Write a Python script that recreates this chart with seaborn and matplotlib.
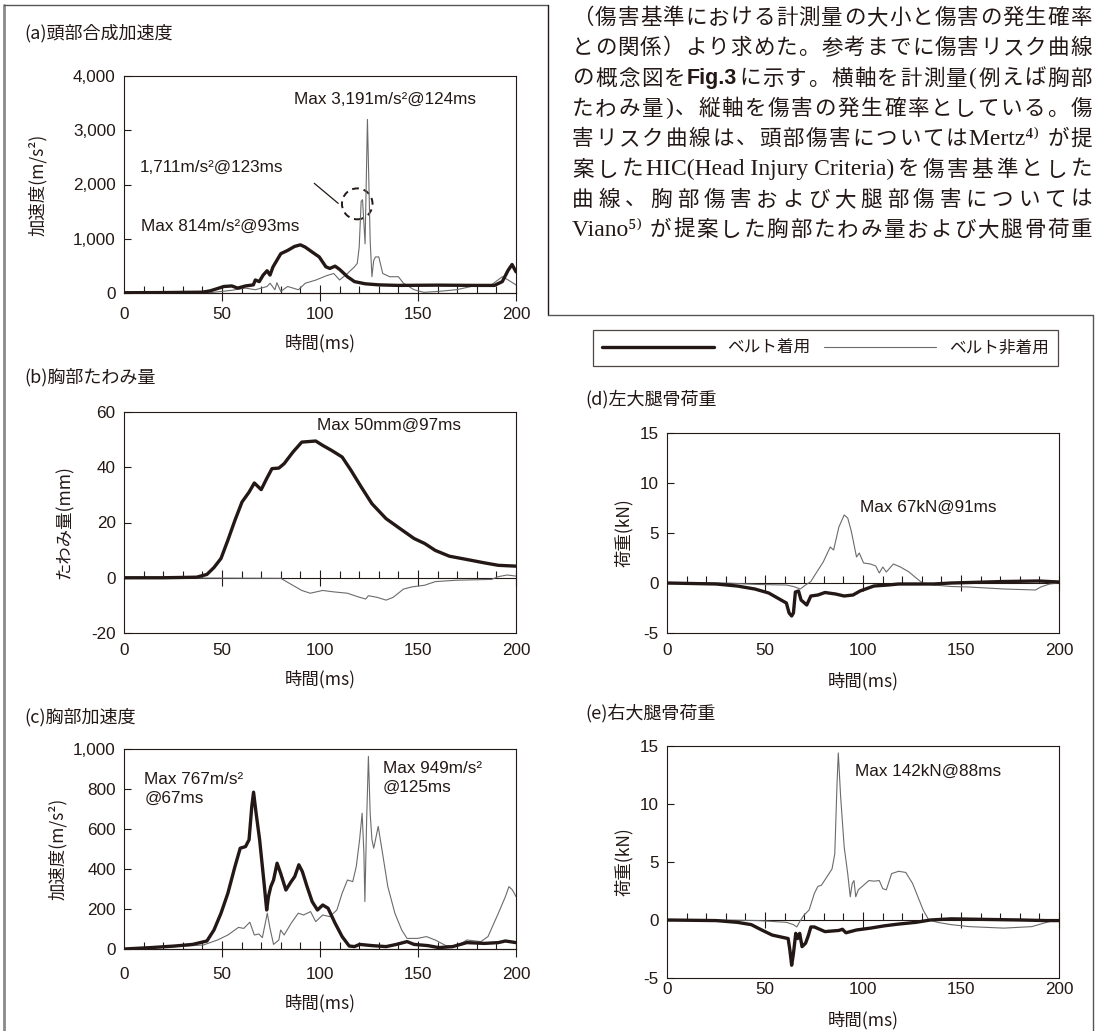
import matplotlib
matplotlib.use('Agg')
import matplotlib.pyplot as plt
from matplotlib import font_manager
from matplotlib.lines import Line2D
from matplotlib.patches import Ellipse
import seaborn as sns

W, H = 1097, 1031

# ---------------- data ----------------
time_ticks = [0, 50, 100, 150, 200]
belt_label = 'ベルト着用'
nobelt_label = 'ベルト非着用'

# (a) head resultant acceleration (m/s^2)
a_belt_t = [0, 20, 40, 44, 51, 55, 58, 62, 66, 67, 69, 71, 73, 74.5, 76, 80, 83.5, 87, 90, 92.5,
            96, 99.6, 103, 105, 107.7, 110, 114, 117.6, 123, 130, 140, 160, 180, 189, 193, 196, 198, 200]
a_belt_v = [5, 8, 15, 40, 120, 130, 90, 130, 150, 240, 210, 330, 410, 330, 480, 725, 785, 858, 888, 845,
            755, 665, 483, 453, 495, 435, 300, 210, 170, 150, 140, 145, 140, 140, 210, 420, 525, 390]
a_nobelt_t = [0, 30, 44, 55, 62, 67, 73, 74.5, 77, 78, 80, 83.5, 89, 92.5, 98, 103, 107, 110, 114, 117.6,
              119, 120, 121, 121.7, 123, 124.2, 125.6, 126.5, 127.4, 128.3, 130, 132, 135.5, 140, 142.6,
              148, 153, 160.6, 169.5, 178.5, 187.5, 193, 196, 200]
a_nobelt_v = [0, 0, 5, 50, 90, 60, 120, 180, 60, 190, 30, 120, 60, 180, 240, 315, 360, 240, 360, 483,
              545, 845, 1690, 1720, 906, 3200, 965, 300, 600, 665, 665, 360, 300, 300, 180,
              60, 12, 30, 60, 130, 150, 300, 240, 150]
a_yticks = [0, 1000, 2000, 3000, 4000]

# (b) chest deflection (mm)
b_belt_t = [0, 20, 37, 42.3, 45.9, 49.5, 53, 56.6, 60.2, 63.8, 66.5, 70, 72.8, 75.5, 79, 81.7, 86.2,
            90.7, 97.8, 101.4, 105.9, 111.3, 115.8, 121, 126.5, 133.7, 140.8, 148, 153.4, 158.8, 166,
            175, 183.8, 191, 200]
b_belt_v = [0, 0, 0.2, 1.2, 3.7, 7, 13.6, 20.8, 27.4, 31, 34.3, 31.9, 35.9, 39.5, 39.7, 41.3, 45.5,
            49.1, 49.5, 47.9, 46.1, 43.7, 38.9, 32.9, 26.8, 21.4, 17.8, 14.2, 12.4, 9.9, 7.8,
            6.6, 5.4, 4.5, 4.2]
b_nobelt_t = [0, 40, 80, 85.3, 90.7, 95, 101.4, 106.8, 114, 119.4, 123.3, 124.7, 129.2, 133.7, 137.3,
              142.6, 147, 153.4, 158.8, 169.5, 187.5, 191, 195.5, 200]
b_nobelt_v = [0, -0.1, -0.2, -2.4, -4.6, -5.6, -4.6, -5.1, -5.6, -6.9, -7.7, -6.5, -7.1, -8.1, -7.1,
              -4.1, -3.3, -2.7, -1.4, -0.9, -0.6, 0.4, 1.0, 0.6]
b_yticks = [-20, 0, 20, 40, 60]

# (c) chest acceleration (m/s^2)
c_belt_t = [0, 13.6, 26, 35, 42.3, 45.9, 49.5, 53, 56.6, 59.3, 62, 63.8, 65.2, 66.1, 67.4, 69.2, 71.3,
            72.8, 73.7, 74.9, 76.3, 78.1, 79.9, 82.6, 85.3, 87.1, 89.2, 91, 93.4, 96, 98.7, 101.4, 104.1,
            107.7, 111.3, 114.9, 117.6, 120.2, 126.5, 133.7, 139, 144.4, 148, 155, 160.6, 167.7, 174.9,
            183.8, 191, 194.6, 200]
c_belt_v = [0, 7, 15, 23, 40, 95, 179, 279, 412, 504, 512, 546, 713, 784, 679, 546, 345,
            195, 262, 312, 345, 429, 379, 295, 337, 362, 421, 387, 312, 237, 195, 220, 204,
            129, 62, 15, 12, 23, 17, 12, 23, 37, 23, 17, 7, 12, 32,
            28, 32, 40, 32]
c_nobelt_t = [0, 26, 40.5, 47.7, 53, 58.4, 61.1, 64.2, 66.5, 68.8, 70.6, 73.1, 74.5, 76.3, 79, 79.9, 81.7,
              85.3, 88.9, 91.6, 95.2, 97.8, 101.4, 105, 108.6, 111.3, 114, 116.7, 118.5, 120.2, 121.5,
              122.4, 122.9, 123.8, 124.7, 125.6, 126.5, 127.4, 128.3, 129.7, 131.9, 134.6, 138.2, 141.7,
              144.4, 149.8, 154.3, 158.8, 164.2, 169.5, 174.9, 182.1, 185.7, 191, 194.6, 196.4, 198.2, 200]
c_nobelt_v = [0, 12, 20, 45, 70, 108, 103, 134, 70, 75, 57, 179, 103, 23, 45, 95, 70,
              129, 179, 170, 187, 137, 170, 162, 195, 279, 345, 337, 412, 546, 679,
              479, 237, 646, 963, 679, 546, 504, 546, 613, 479, 312, 179, 95,
              53, 53, 62, 45, 17, 12, 45, 37, 62, 179, 262, 312, 295, 262]
c_yticks = [0, 200, 400, 600, 800, 1000]

# (d) left femur load (kN)
d_belt_t = [0, 25, 35.8, 44.8, 51.9, 57.3, 60.9, 62.3, 63.6, 64.5, 65.5, 67.1, 68.4, 71.3, 73.4, 77,
            80.6, 86, 90.4, 94.9, 98.5, 105.6, 112.8, 118.2, 136, 145, 154, 171.9, 189.8, 200]
d_belt_v = [0, -0.1, -0.3, -0.6, -1.0, -1.6, -2.0, -3.0, -3.3, -3.0, -0.9, -0.8, -1.7, -2.2, -1.3, -1.2,
            -0.95, -1.1, -1.3, -1.2, -0.8, -0.3, -0.2, -0.1, -0.1, 0, 0.05, 0.15, 0.2, 0.1]
d_nobelt_t = [0, 30, 46.6, 60.9, 64.5, 68, 70.7, 73.4, 76.1, 79.7, 83.3, 85, 87.7, 90.4, 92.2, 94,
              96.7, 98.1, 100.3, 103.8, 106.5, 108.3, 110.1, 111.9, 115.5, 119.1, 123.5, 127.1, 130.3,
              136, 145, 154, 171.9, 188, 190.7, 195.2, 200]
d_nobelt_v = [0, 0, -0.15, -0.2, -0.35, -0.6, -0.2, 0.15, 1.0, 2.1, 3.6, 3.3, 5.6, 6.8, 6.5, 5.2,
              2.6, 3.0, 2.0, 1.9, 1.7, 1.0, 1.6, 1.1, 1.9, 1.6, 1.1, 0.5, 0,
              -0.2, -0.35, -0.4, -0.6, -0.7, -0.4, -0.1, 0]

# (e) right femur load (kN)
e_belt_t = [0, 25, 35.8, 43, 48.3, 53.7, 59.1, 61.8, 62.7, 63.6, 64.5, 65.7, 66.6, 67.7, 68.9, 70.7,
            72, 73.4, 75.2, 80.6, 87.7, 89.5, 91.3, 96.7, 103.8, 111, 118.2, 127.1, 134.3, 145, 163,
            180.8, 193.4, 200]
e_belt_v = [0, -0.05, -0.2, -0.4, -0.86, -1.3, -1.5, -1.6, -2.6, -3.9, -2.9, -1.15, -1.6, -1.15, -2.3, -2.0,
            -1.4, -0.6, -0.6, -1.0, -0.9, -0.8, -1.1, -0.86, -0.7, -0.5, -0.35, -0.2, 0, 0.1, 0.05,
            0, -0.05, -0.05]
e_nobelt_t = [0, 30, 46.6, 60.9, 64.5, 66.2, 67.7, 69.8, 72.5, 75.2, 77, 78.8, 81.5, 84.2, 85.6, 86.8,
              87.4, 88.6, 90.4, 92.2, 93.5, 94.5, 95.4, 96.3, 97.6, 100.3, 103, 105.6, 108.3, 110.1,
              111.9, 114.6, 118.2, 121.8, 125.3, 128, 130.7, 133.4, 137.9, 145, 150.4, 154, 171.9,
              186.2, 191.6, 197, 200]
e_nobelt_v = [0, 0, -0.05, -0.2, -0.4, -0.6, -0.15, 0.4, 0.86, 2.3, 2.9, 3.0, 3.7, 4.4, 5.7, 12.0,
              14.4, 10.6, 6.3, 4.0, 2.0, 3.15, 3.4, 2.0, 2.6, 3.0, 3.4, 3.35, 3.4, 2.7,
              2.6, 4.0, 4.2, 4.1, 3.15, 2.0, 0.86, 0.05, -0.2, -0.4, -0.5, -0.57, -0.7,
              -0.57, -0.3, -0.05, -0.05]
femur_yticks = [-5, 0, 5, 10, 15]

# body text to the upper right, one list of (text, bold) pieces per printed line
body_lines = [
    [('（傷害基準における計測量の大小と傷害の発生確率', False)],
    [('との関係）より求めた。参考までに傷害リスク曲線', False)],
    [('の概念図を', False), ('Fig.3', True), ('に示す。横軸を計測量(例えば胸部', False)],
    [('たわみ量)、縦軸を傷害の発生確率としている。傷', False)],
    [('害リスク曲線は、頭部傷害についてはMertz⁴⁾ が提', False)],
    [('案したHIC(Head Injury Criteria)を傷害基準とした', False)],
    [('曲線、胸部傷害および大腿部傷害については', False)],
    [('Viano⁵⁾ が提案した胸部たわみ量および大腿骨荷重', False)],
]

# ---------------- style ----------------
sns.set_style('ticks')
installed = {f.name for f in font_manager.fontManager.ttflist}
NUM = 'Liberation Sans Narrow' if 'Liberation Sans Narrow' in installed else 'Liberation Sans'
NUM_SIZE = 13.4 if NUM == 'Liberation Sans Narrow' else 12.3
JP = ['Noto Sans CJK JP', 'DejaVu Sans']
NUMF = [NUM, 'DejaVu Sans']
plt.rcParams['font.family'] = JP
INK = '#231815'
THIN = '#6b6b6b'


def box(l, t, r, b):
    return [l / W, 1 - b / H, (r - l) / W, (b - t) / H]


fig = plt.figure(figsize=(W / 100, H / 100), dpi=100)


def panel(rect, belt_t, belt_v, nobelt_t, nobelt_v, ylim, yticks, ylab, ylab_x, xlab_y, xpad):
    ax = fig.add_axes(box(*rect))
    sns.lineplot(x=nobelt_t, y=nobelt_v, ax=ax, color=THIN, linewidth=0.8, estimator=None,
                 label=nobelt_label, legend=False)
    sns.lineplot(x=belt_t, y=belt_v, ax=ax, color=INK, linewidth=2.4, estimator=None,
                 label=belt_label, legend=False)
    ax.set_xlim(0, 200)
    ax.set_ylim(*ylim)
    for s in ax.spines.values():
        s.set_linewidth(0.8)
        s.set_color(INK)
    ax.set_xticks(time_ticks)
    ax.set_xticklabels([str(v) for v in time_ticks], family=NUMF, fontsize=NUM_SIZE, color=INK)
    ax.tick_params(axis='x', length=0, pad=xpad)
    ax.set_yticks(yticks)
    ax.set_yticklabels([f'{v:,}' for v in yticks], family=NUMF, fontsize=NUM_SIZE, color=INK)
    ax.tick_params(axis='y', direction='in', length=5, width=0.8, color=INK, pad=6)
    # axis drawn along the zero line, with the small 10 ms ticks
    zero = (0 - ylim[0]) / (ylim[1] - ylim[0])
    sec = ax.secondary_xaxis(zero)
    sec.spines['bottom'].set_linewidth(0.8)
    sec.spines['bottom'].set_color(INK)
    sec.set_xticks([50, 100, 150, 200])
    sec.set_xticks([v for v in range(10, 200, 10) if v % 50], minor=True)
    sec.tick_params(which='major', direction='inout', length=11, width=0.8, color=INK, labelbottom=False)
    sec.tick_params(which='minor', direction='in', length=5, width=0.8, color=INK, labelbottom=False)
    l, t, r, b = rect
    ax.set_ylabel(ylab, fontsize=12.5, color=INK, va='center')
    ax.yaxis.set_label_coords((ylab_x - l) / (r - l), 0.5)
    ax.set_xlabel('時間(ms)', fontsize=12.5, color=INK, va='center')
    ax.xaxis.set_label_coords(0.5, (b - xlab_y) / (b - t))
    return ax


ax_a = panel((124, 76, 516, 293), a_belt_t, a_belt_v, a_nobelt_t, a_nobelt_v, (0, 4000), a_yticks,
             '加速度(m/s²)', 38, 343, 10)
ax_b = panel((124, 412, 516, 633), b_belt_t, b_belt_v, b_nobelt_t, b_nobelt_v, (-20, 60), b_yticks,
             'たわみ量(mm)', 65, 679, 7)
ax_c = panel((124, 749, 516, 949), c_belt_t, c_belt_v, c_nobelt_t, c_nobelt_v, (0, 1000), c_yticks,
             '加速度(m/s²)', 58, 1003, 13)
ax_d = panel((667, 433, 1059, 633), d_belt_t, d_belt_v, d_nobelt_t, d_nobelt_v, (-5, 15), femur_yticks,
             '荷重(kN)', 624, 681, 7)
ax_e = panel((667, 746, 1059, 978), e_belt_t, e_belt_v, e_nobelt_t, e_nobelt_v, (-5, 15), femur_yticks,
             '荷重(kN)', 624, 1020, 3)

# peak annotations
note = dict(family=NUMF, fontsize=NUM_SIZE, color=INK, va='center', ha='left')
ax_a.text(86.7, 3564, 'Max 3,191m/s²@124ms', **note)
ax_a.text(8.2, 2313, '1,711m/s²@123ms', **note)
ax_a.text(8.8, 1220, 'Max 814m/s²@93ms', **note)
ax_a.add_patch(Ellipse((119, 1643), 15.6, 570, fill=False, edgecolor=INK, linewidth=1.4,
                       linestyle=(0, (3.5, 2.5))))
ax_a.annotate('', xy=(110.4, 1619), xytext=(96, 2054),
              arrowprops=dict(arrowstyle='-', color=INK, linewidth=0.9))
ax_b.text(98.7, 55.2, 'Max 50mm@97ms', **note)
ax_c.text(10.4, 800, 'Max 767m/s²\n@67ms', linespacing=1.35, **note)
ax_c.text(131.9, 855, 'Max 949m/s²\n@125ms', linespacing=1.35, **note)
ax_d.text(98.5, 7.6, 'Max 67kN@91ms', **note)
ax_e.text(95.8, 12.8, 'Max 142kN@88ms', **note)

# panel titles
titles = [('(a)頭部合成加速度', 24, 33), ('(b)胸部たわみ量', 24, 377), ('(c)胸部加速度', 24, 717),
          ('(d)左大腿骨荷重', 585, 399), ('(e)右大腿骨荷重', 585, 713)]
for txt, x, y in titles:
    fig.text(x / W, 1 - y / H, txt, fontsize=13, color=INK, va='center', ha='left')

# legend
belt_line, nobelt_line = ax_a.lines[1], ax_a.lines[0]
leg = fig.legend([belt_line, nobelt_line], [belt_label, nobelt_label], ncol=2, loc='center',
                 bbox_to_anchor=(825.5 / W, 1 - 348 / H), frameon=True, fancybox=False,
                 edgecolor=INK, fontsize=12, handlelength=6.7, handletextpad=0.8,
                 columnspacing=0.85, borderpad=0.55)
leg.get_frame().set_linewidth(0.9)
for t in leg.get_texts():
    t.set_color(INK)

# frame lines of the page layout
frame = [((4, 4), (5, H), '#8a8a8a', 2.0), ((4, 548), (5, 5), '#555555', 1.0),
         ((548, 548), (5, 315), INK, 1.0), ((548, 1093), (315, 315), '#555555', 1.0),
         ((1093, 1093), (315, H), '#555555', 1.0)]
for xs, ys, col, lw in frame:
    fig.add_artist(Line2D([x / W for x in xs], [1 - y / H for y in ys], color=col, linewidth=lw,
                          transform=fig.transFigure))


# justified body text
def split_tokens(pieces):
    toks = []
    for s, bold in pieces:
        run = ''
        for ch in s:
            if ord(ch) >= 0x2E80:
                if run:
                    toks.append((run, bold))
                    run = ''
                toks.append((ch, bold))
            else:
                run += ch
        if run:
            toks.append((run, bold))
    return toks


renderer = fig.canvas.get_renderer()
x_left, x_right = 572, 1092
for i, pieces in enumerate(body_lines):
    y = 1 - (18 + 30.3 * i) / H
    texts = []
    for s, bold in split_tokens(pieces):
        if bold:
            fam, wt, size = ['Liberation Sans', 'Noto Sans CJK JP'], 'bold', 15.5
        elif ord(s[0]) >= 0x2E80:
            fam, wt, size = JP, 'normal', 15.5
        else:
            fam, wt, size = ['Liberation Serif', 'DejaVu Serif'], 'normal', 17
        texts.append(fig.text(0, y, s, fontsize=size, family=fam, weight=wt, color=INK,
                              va='center', ha='left'))
    widths = [t.get_window_extent(renderer).width for t in texts]
    gap = (x_right - x_left - sum(widths)) / (len(texts) - 1)
    x = x_left
    for t, w in zip(texts, widths):
        t.set_x(x / W)
        x += w + gap

fig.savefig('out.png', dpi=100, facecolor='white')
